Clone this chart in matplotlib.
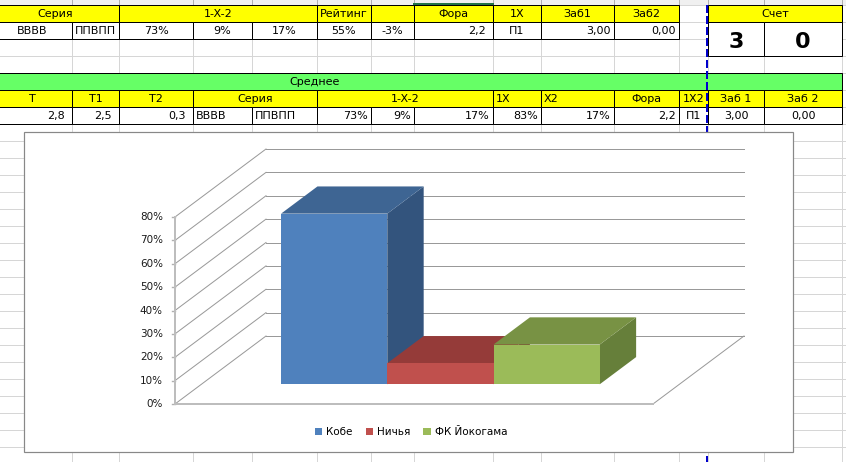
import matplotlib
matplotlib.use("Agg")
import matplotlib.pyplot as plt
from matplotlib.patches import Rectangle, Polygon, Patch

plt.rcParams['font.family'] = ['DejaVu Sans']

# ---- spreadsheet content ----
cols = [-8, 72, 119, 193, 252, 317, 371, 414, 493, 541, 614, 679, 708, 764, 842]

header1 = [("Серия", 0, 2), ("1-X-2", 2, 5), ("Рейтинг", 5, 6), ("", 6, 7),
           ("Фора", 7, 8), ("1X", 8, 9), ("Заб1", 9, 10), ("Заб2", 10, 11),
           ("Счет", 12, 14)]
row1 = [("ВВВВ", 0, 1, "c"), ("ППВПП", 1, 2, "c"), ("73%", 2, 3, "c"),
        ("9%", 3, 4, "c"), ("17%", 4, 5, "c"), ("55%", 5, 6, "c"),
        ("-3%", 6, 7, "c"), ("2,2", 7, 8, "r7"), ("П1", 8, 9, "c"),
        ("3,00", 9, 10, "r"), ("0,00", 10, 11, "r")]
score = [("3", 12, 13), ("0", 13, 14)]
header2 = [("Т", 0, 1, "c"), ("Т1", 1, 2, "c"), ("Т2", 2, 3, "c"),
           ("Серия", 3, 5, "c"), ("1-X-2", 5, 8, "c"), ("1X", 8, 9, "l"),
           ("X2", 9, 10, "l"), ("Фора", 10, 11, "c"), ("1X2", 11, 12, "c"),
           ("Заб 1", 12, 13, "c"), ("Заб 2", 13, 14, "c")]
row2 = [("2,8", 0, 1, "r7"), ("2,5", 1, 2, "r7"), ("0,3", 2, 3, "r7"),
        ("ВВВВ", 3, 4, "l"), ("ППВПП", 4, 5, "l"), ("73%", 5, 6, "r"),
        ("9%", 6, 7, "r"), ("17%", 7, 8, "r"), ("83%", 8, 9, "r"),
        ("17%", 9, 10, "r"), ("2,2", 10, 11, "r"), ("П1", 11, 12, "c"),
        ("3,00", 12, 13, "c"), ("0,00", 13, 14, "c")]
avg_title = "Среднее"

# ---- chart data ----
teams = ["Кобе", "Ничья", "ФК Йокогама"]
probs = [0.73, 0.09, 0.17]
yticks = [0.0, 0.1, 0.2, 0.3, 0.4, 0.5, 0.6, 0.7, 0.8]
front_c = ["#4F81BD", "#C0504D", "#9BBB59"]
top_c = ["#3E6593", "#953B39", "#789244"]
side_c = ["#33547D", "#7E3230", "#667F3A"]

YEL = "#FFFF00"
GRN = "#66FF66"
GRID = "#d6d6d6"
PX = 0.72  # one pixel in points at dpi 100

fig = plt.figure(figsize=(8.46, 4.62), dpi=100)
ax = fig.add_axes([0, 0, 1, 1])
ax.set_xlim(0, 846)
ax.set_ylim(462, 0)
ax.axis("off")

# column header strip
ax.add_patch(Rectangle((0, 0), 846, 5, fc="#f0f0f0", ec="none", zorder=1))
for x in cols[1:]:
    ax.plot([x, x], [0, 5], color="#b0b0b0", lw=PX, zorder=1)
ax.plot([414, 493], [3.5, 3.5], color="#217346", lw=2 * PX, zorder=2)

# light grid
for x in cols[1:]:
    ax.plot([x, x], [5, 462], color=GRID, lw=PX, zorder=1)
y = 5
while y < 462:
    ax.plot([0, 846], [y, y], color=GRID, lw=PX, zorder=1)
    y += 17


def cell(c0, c1, y0, y1, fc):
    ax.add_patch(Rectangle((cols[c0], y0), cols[c1] - cols[c0], y1 - y0,
                           fc=fc, ec="black", lw=PX, zorder=2))


def put(txt, c0, c1, yc, how="c", **kw):
    if how == "c":
        ax.text((cols[c0] + cols[c1]) / 2, yc, txt, ha="center", va="center",
                fontsize=8, zorder=3, **kw)
    elif how == "l":
        ax.text(cols[c0] + 3, yc, txt, ha="left", va="center", fontsize=8, zorder=3)
    else:
        pad = 7 if how == "r7" else 3
        ax.text(cols[c1] - pad, yc, txt, ha="right", va="center", fontsize=8, zorder=3)


for txt, c0, c1 in header1:
    cell(c0, c1, 5, 22, YEL)
    put(txt, c0, c1, 14)
for txt, c0, c1, how in row1:
    cell(c0, c1, 22, 39, "white")
    put(txt, c0, c1, 31, how)
for txt, c0, c1 in score:
    cell(c0, c1, 22, 56, "white")
    ax.text((cols[c0] + cols[c1]) / 2, 42, txt, ha="center", va="center",
            fontsize=16, fontweight="bold", zorder=3)

cell(0, 14, 73, 90, GRN)
ax.text(315, 82, avg_title, ha="center", va="center", fontsize=8, zorder=3)
for txt, c0, c1, how in header2:
    cell(c0, c1, 90, 107, YEL)
    put(txt, c0, c1, 99, how)
for txt, c0, c1, how in row2:
    cell(c0, c1, 107, 124, "white")
    put(txt, c0, c1, 116, how)

# page break line
ax.plot([707, 707], [5, 462], color="#0000cc", lw=2 * PX,
        linestyle=(0, (4, 1.5)), zorder=4)

# chart frame
ax.add_patch(Rectangle((24, 132), 769, 320, fc="white", ec="#888888",
                       lw=1.2 * PX, zorder=5))

# ---- 3D-like column chart ----
cx = fig.add_axes([175 / 846, (462 - 404) / 462, 478 / 846, 187 / 462])
cx.set_xlim(0, 4.5)
cx.set_ylim(0, 0.8)
cx.axis("off")

DX = 91 / 478 * 4.5
DY = 68 / 187 * 0.8
f0, f1 = 0.29, 0.69

for t in yticks:
    cx.plot([0, DX], [t, t + DY], color="#999999", lw=PX, clip_on=False, zorder=1)
    cx.plot([DX, 4.5 + DX], [t + DY, t + DY], color="#999999", lw=PX,
            clip_on=False, zorder=1)
    cx.plot([-0.03, 0], [t, t], color="#b0b0b0", lw=1.4 * PX, clip_on=False, zorder=1)
    cx.text(-0.115, t, f"{int(round(t * 100))}%", ha="right", va="center",
            fontsize=7.5, color="#1a1a1a")
cx.plot([4.5, 4.5 + DX], [0, DY], color="#999999", lw=PX, clip_on=False, zorder=1)
cx.plot([0, 4.5], [0, 0], color="#bdbdbd", lw=2 * PX, clip_on=False, zorder=1)
cx.plot([0, 0], [0, 0.8], color="#bdbdbd", lw=2 * PX, clip_on=False, zorder=1)

for i, v in enumerate(probs):
    a = 0.75 + i + f0 * DX
    b = a + 1
    a2 = 0.75 + i + f1 * DX
    b2 = a2 + 1
    yb = f0 * DY
    yb2 = f1 * DY
    z = 3 + i
    cx.add_patch(Polygon([(b, yb), (b2, yb2), (b2, v + yb2), (b, v + yb)],
                         closed=True, fc=side_c[i], ec="none", clip_on=False, zorder=z))
    cx.add_patch(Polygon([(a, v + yb), (b, v + yb), (b2, v + yb2), (a2, v + yb2)],
                         closed=True, fc=top_c[i], ec="none", clip_on=False, zorder=z))
    cx.add_patch(Rectangle((a, yb), 1, v, fc=front_c[i], ec="none",
                           clip_on=False, zorder=z))

handles = [Patch(fc=c, ec="none", label=n) for c, n in zip(front_c, teams)]
fig.legend(handles=handles, loc="center", bbox_to_anchor=(411 / 846, 1 - 432 / 462),
           ncol=3, frameon=False, fontsize=7.5, handlelength=0.7, handleheight=0.7,
           handletextpad=0.38, columnspacing=1.25, borderpad=0)

fig.savefig("out.png", dpi=100)
